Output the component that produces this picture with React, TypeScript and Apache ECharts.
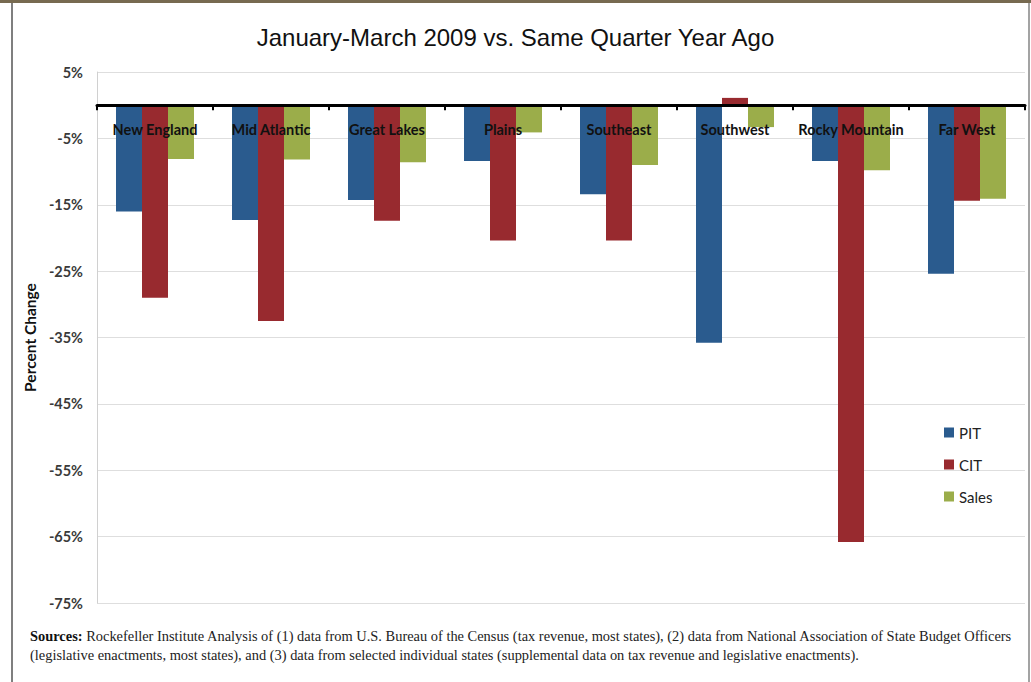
import React, { useEffect, useRef } from "react";
import * as echarts from "echarts";

const categories = [
  "New England",
  "Mid Atlantic",
  "Great Lakes",
  "Plains",
  "Southeast",
  "Southwest",
  "Rocky Mountain",
  "Far West",
];
const pitValues = [-16.0, -17.3, -14.3, -8.4, -13.4, -35.8, -8.4, -25.4];
const citValues = [-29.0, -32.5, -17.4, -20.4, -20.4, 1.1, -65.8, -14.4];
const salesValues = [-8.1, -8.2, -8.6, -4.1, -9.0, -3.3, -9.8, -14.1];
const seriesNames = ["PIT", "CIT", "Sales"];
const seriesColors = ["#2a5b8e", "#982a2f", "#9bad4a"];
const yMin = -75;
const yMax = 5;
const yStep = 5;
const titleText = "January-March 2009 vs. Same Quarter Year Ago";
const yAxisName = "Percent Change";
const sourcesLine1 =
  "{b|Sources:} Rockefeller Institute Analysis of (1) data from U.S. Bureau of the Census (tax revenue, most states), (2) data from National Association of State Budget Officers";
const sourcesLine2 =
  "(legislative enactments, most states), and (3) data from selected individual states (supplemental data on tax revenue and legislative enactments).";

export default function App() {
  const ref = useRef<HTMLDivElement>(null);
  useEffect(() => {
    if (!ref.current) return;
    const chart = echarts.init(ref.current, null, { renderer: "svg" });
    const allValues = [pitValues, citValues, salesValues];
    chart.setOption({
      animation: false,
      backgroundColor: "#ffffff",
      title: {
        text: titleText,
        left: "center",
        top: 20,
        textStyle: {
          fontFamily: "Liberation Sans",
          fontSize: 24,
          fontWeight: "normal",
          color: "#111",
        },
      },
      legend: {
        orient: "vertical",
        left: 939,
        top: 420,
        itemWidth: 10,
        itemHeight: 10,
        itemGap: 17,
        icon: "rect",
        textStyle: { fontFamily: "Lato", fontSize: 15, color: "#222" },
        data: seriesNames,
      },
      grid: { left: 97, right: 6, top: 72, bottom: 79, containLabel: false },
      xAxis: {
        type: "category",
        data: categories,
        z: 10,
        axisLine: { onZero: true, lineStyle: { color: "#000", width: 3 } },
        axisTick: { show: true, length: 5, lineStyle: { color: "#000", width: 2 } },
        axisLabel: {
          interval: 0,
          margin: -481,
          fontFamily: "Lato",
          fontWeight: "bold",
          fontSize: 14.5,
          color: "#111",
        },
        splitLine: { show: false },
      },
      yAxis: {
        type: "value",
        min: yMin,
        max: yMax,
        interval: yStep,
        name: yAxisName,
        nameLocation: "middle",
        nameGap: 55,
        nameTextStyle: {
          fontFamily: "Lato",
          fontWeight: "bold",
          fontSize: 15.5,
          color: "#111",
        },
        axisLine: { show: true, lineStyle: { color: "#d0d0d0", width: 1 } },
        axisTick: { show: false },
        axisLabel: {
          margin: 14,
          fontFamily: "Lato",
          fontSize: 14.5,
          fontWeight: "bold",
          color: "#3a3a3a",
          formatter: (v: number) => (Math.abs(v % 10) === 5 ? v + "%" : ""),
        },
        splitLine: {
          show: true,
          lineStyle: { color: ["#dedede", "rgba(0,0,0,0)"], width: 1 },
        },
      },
      series: seriesNames.map((name, i) => ({
        name,
        type: "bar",
        data: allValues[i],
        barWidth: 26,
        barGap: "0%",
        itemStyle: { color: seriesColors[i] },
      })),
      graphic: [
        {
          type: "rect",
          shape: { x: 0, y: 0, width: 1031, height: 3 },
          style: { fill: "#776a50" },
        },
        {
          type: "line",
          shape: { x1: 12, y1: 3, x2: 12, y2: 682 },
          style: { stroke: "#555", lineWidth: 1.5 },
        },
        {
          type: "line",
          shape: { x1: 1029, y1: 3, x2: 1029, y2: 682 },
          style: { stroke: "#666", lineWidth: 1.2 },
        },
        {
          type: "text",
          x: 30,
          y: 629,
          scaleX: 1.03,
          style: {
            text: sourcesLine1,
            fontFamily: "Liberation Serif",
            fontSize: 14,
            fill: "#222",
            rich: {
              b: {
                fontFamily: "Liberation Serif",
                fontSize: 14,
                fontWeight: "bold",
                fill: "#111",
              },
            },
          },
        },
        {
          type: "text",
          x: 30,
          y: 648,
          scaleX: 1.03,
          style: {
            text: sourcesLine2,
            fontFamily: "Liberation Serif",
            fontSize: 14,
            fill: "#222",
          },
        },
      ],
    });
    return () => chart.dispose();
  }, []);
  return (
    <div
      ref={ref}
      style={{ position: "fixed", left: 0, top: 0, width: 1031, height: 682 }}
    />
  );
}
